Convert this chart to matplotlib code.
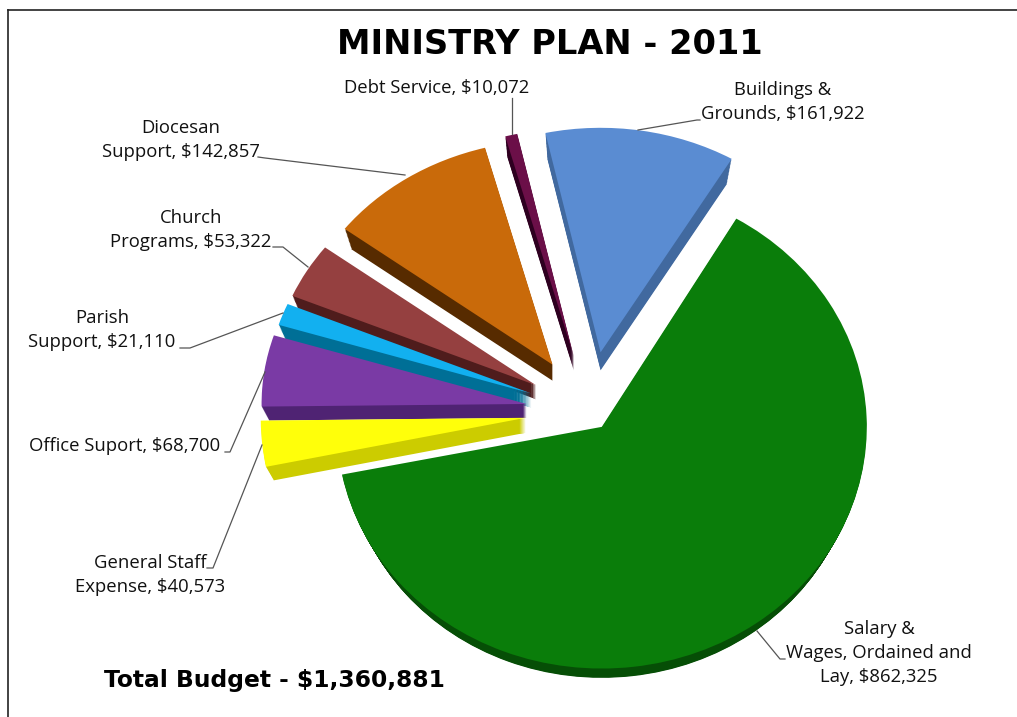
import matplotlib
matplotlib.use("Agg")
import matplotlib.pyplot as plt
from matplotlib.lines import Line2D
from matplotlib.transforms import Affine2D

W, H = 1017, 717

# data, clockwise from the upper right
categories = ["Salary &\nWages, Ordained and\nLay, $862,325",
              "General Staff\nExpense, $40,573",
              "Office Suport, $68,700",
              "Parish\nSupport, $21,110",
              "Church\nPrograms, $53,322",
              "Diocesan\nSupport, $142,857",
              "Debt Service, $10,072",
              "Buildings &\nGrounds, $161,922"]
values = [862325, 40573, 68700, 21110, 53322, 142857, 10072, 161922]
title = "MINISTRY PLAN - 2011"
total_text = "Total Budget - $1,360,881"

# styling
top_colors = ["#0A7D0A", "#FFFF0A", "#7A3AA5", "#12B0F0", "#954040", "#C96A0A", "#6B0F48", "#5A8CD2"]
side_colors = ["#064E06", "#CCCC00", "#4F2373", "#006F96", "#4F1C1C", "#572B00", "#2E0020", "#41699F"]
explode = [0.08, 0.242, 0.24, 0.234, 0.233, 0.25, 0.25, 0.265]
depths = [18, 15, 14, 14, 14, 16, 14, 18]
radius_scale = [1.0, 1.0, 1.0, 1.0, 1.0, 0.985, 1.0, 0.975]
y_scale = [1.06, 1.09, 1.0, 1.0, 1.0, 1.0, 1.0, 1.01]
label_pos = [(879, 653), (150, 575), (124.5, 446), (102, 330), (191, 230), (181, 140), (437, 88), (783, 102)]
leaders = [[(757, 631), (780, 659), (785, 659)],
           [(207, 568), (213, 568), (262, 445)],
           [(225, 452), (230, 452), (265, 372)],
           [(180, 348), (190, 348), (283, 313)],
           [(273, 247), (283, 247), (308, 267)],
           [(258, 157), (265, 158), (405, 175)],
           [(512, 98), (512, 134)],
           [(638, 130), (697, 120), (700, 120)]]

CX, CY, RX, RY = 589.5, 412, 265, 228
START = 59.5
TAPER = 0.002

fig = plt.figure(figsize=(W / 100, H / 100), dpi=100, facecolor="white")
ax = fig.add_axes([0, 0, 1, 1])


def stretch(wedge, factor):
    """Stretch a wedge vertically about its own apex."""
    pivot = wedge.center[1]
    wedge.set_transform(Affine2D().translate(0, -pivot).scale(1, factor).translate(0, pivot) + ax.transData)


# extruded side: stacked copies of the pie, moved downward and slightly narrowed
for d in range(max(depths), 0, -1):
    wedges, _ = ax.pie(values, explode=explode, colors=side_colors, startangle=START,
                       counterclock=False, center=(0, -d / RY), radius=1,
                       wedgeprops=dict(linewidth=0))
    for w, dep, sc, ys in zip(wedges, depths, radius_scale, y_scale):
        w.set_visible(d <= dep)
        w.set_radius(sc * (1 - TAPER * d))
        stretch(w, ys)
top_wedges, _ = ax.pie(values, explode=explode, colors=top_colors, startangle=START, counterclock=False,
                       center=(0, 0), radius=1, wedgeprops=dict(linewidth=0))
for w, sc, ys in zip(top_wedges, radius_scale, y_scale):
    w.set_radius(sc)
    stretch(w, ys)

ax.set_aspect("auto")
ax.set_xlim(-CX / RX, (W - CX) / RX)
ax.set_ylim((CY - H) / RY, CY / RY)
ax.set_axis_off()


def fx(px):
    return px / W


def fy(py):
    return 1 - py / H


# frame
for xs, ys in [((8, W), (9.5, 9.5)), ((8, 8), (9.5, H))]:
    fig.add_artist(Line2D([fx(x) for x in xs], [fy(y) for y in ys], color="#222222", lw=1.2))

# leader lines
for pts in leaders:
    fig.add_artist(Line2D([fx(p[0]) for p in pts], [fy(p[1]) for p in pts], color="#555555", lw=0.9))

# labels
for text, (x, y) in zip(categories, label_pos):
    fig.text(fx(x), fy(y), text, ha="center", va="center", family="Open Sans",
             fontsize=13.3, color="#111111", linespacing=1.42, multialignment="center")

fig.text(fx(550), fy(44), title, ha="center", va="center", family="DejaVu Sans",
         fontweight="bold", fontsize=24.2, color="black")
fig.text(fx(274), fy(680), total_text, ha="center", va="center", family="DejaVu Sans",
         fontweight="bold", fontsize=16.8, color="black")

fig.savefig("out.png", dpi=100)
